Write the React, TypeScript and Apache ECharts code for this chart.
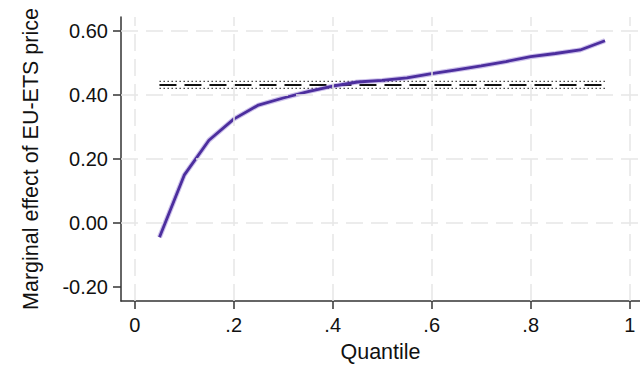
import React, { useEffect, useRef } from "react";
import * as echarts from "echarts";

// Quantile-regression marginal effects of the EU-ETS price
const quantiles = [0.05, 0.1, 0.15, 0.2, 0.25, 0.3, 0.35, 0.4, 0.45, 0.5, 0.55, 0.6, 0.65, 0.7, 0.75, 0.8, 0.85, 0.9, 0.95];
const effects = [-0.045, 0.149, 0.258, 0.324, 0.368, 0.39, 0.41, 0.427, 0.44, 0.445, 0.453, 0.466, 0.478, 0.49, 0.504, 0.519, 0.529, 0.54, 0.569];

// OLS benchmark estimate and its confidence bounds, drawn across the quantile span
const olsSpan = [0.05, 0.95];
const olsCoef = 0.431;
const olsLower = 0.42;
const olsUpper = 0.442;

const xTicks = [0, 0.2, 0.4, 0.6, 0.8, 1];
const yTicks = [-0.2, 0, 0.2, 0.4, 0.6];
const yGridLines = [0, 0.2, 0.4, 0.6];

const FONT = "Liberation Sans, Arial, sans-serif";
const AXIS_COLOR = "#333333";
const GRID_COLOR = "#e6e6e6";

const fmtX = (v: number) => {
  const s = String(+v.toFixed(1));
  return s.replace(/^0\./, ".");
};

export default function App() {
  const ref = useRef<HTMLDivElement>(null);

  useEffect(() => {
    if (!ref.current) return;
    const chart = echarts.init(ref.current, undefined, { renderer: "svg" });

    const effectData = quantiles.map((q, i) => [q, effects[i]]);
    const flat = (v: number) => olsSpan.map((x) => [x, v]);

    chart.setOption({
      animation: false,
      backgroundColor: "#ffffff",
      grid: { left: 121, right: 0, top: 17, bottom: 67, containLabel: false },
      xAxis: {
        type: "value",
        min: -0.0277,
        max: 1.0208,
        name: "Quantile",
        nameLocation: "middle",
        nameGap: 40,
        nameTextStyle: { fontFamily: FONT, fontSize: 21.5, color: "#111" },
        axisLine: { show: true, onZero: false, lineStyle: { color: AXIS_COLOR, width: 1.5 } },
        axisTick: { show: true, length: 8, customValues: xTicks, lineStyle: { color: AXIS_COLOR, width: 1.5 } },
        axisLabel: {
          customValues: xTicks,
          margin: 14,
          fontFamily: FONT,
          fontSize: 20,
          color: "#111",
          formatter: (v: number) => fmtX(v),
        },
        splitLine: { show: false },
      },
      yAxis: {
        type: "value",
        min: -0.244,
        max: 0.643,
        name: "Marginal effect of EU-ETS price",
        nameLocation: "middle",
        nameGap: 79,
        nameTextStyle: { fontFamily: FONT, fontSize: 21.5, color: "#111" },
        axisLine: { show: true, onZero: false, lineStyle: { color: AXIS_COLOR, width: 1.5 } },
        axisTick: { show: true, length: 8, customValues: yTicks, lineStyle: { color: AXIS_COLOR, width: 1.5 } },
        axisLabel: {
          customValues: yTicks,
          margin: 13,
          fontFamily: FONT,
          fontSize: 20,
          color: "#111",
          formatter: (v: number) => v.toFixed(2),
        },
        splitLine: { show: false },
      },
      series: [
        {
          // dashed background grid
          type: "line",
          data: [],
          silent: true,
          markLine: {
            silent: true,
            symbol: "none",
            label: { show: false },
            lineStyle: { color: GRID_COLOR, type: [17, 8], width: 1.5 },
            data: [
              ...yGridLines.map((v) => ({ yAxis: v })),
              ...xTicks.map((v) => ({ xAxis: v })),
            ],
          },
        },
        {
          type: "line",
          data: flat(olsUpper),
          showSymbol: false,
          silent: true,
          lineStyle: { color: "#444", width: 1.2, type: [1.5, 2.5] },
        },
        {
          type: "line",
          data: flat(olsLower),
          showSymbol: false,
          silent: true,
          lineStyle: { color: "#444", width: 1.2, type: [1.5, 2.5] },
        },
        {
          type: "line",
          data: flat(olsCoef),
          showSymbol: false,
          silent: true,
          lineStyle: { color: "#111", width: 2, type: [17, 8] },
        },
        {
          // soft confidence halo around the quantile estimates
          type: "line",
          data: effectData,
          showSymbol: false,
          silent: true,
          lineStyle: { color: "rgba(130,100,205,0.4)", width: 5 },
        },
        {
          type: "line",
          data: effectData,
          showSymbol: false,
          silent: true,
          lineStyle: { color: "#4c2e9e", width: 2.8 },
        },
      ],
    });

    return () => chart.dispose();
  }, []);

  return (
    <div
      ref={ref}
      style={{ position: "absolute", left: 0, top: 0, width: 640, height: 368, background: "#fff" }}
    />
  );
}
